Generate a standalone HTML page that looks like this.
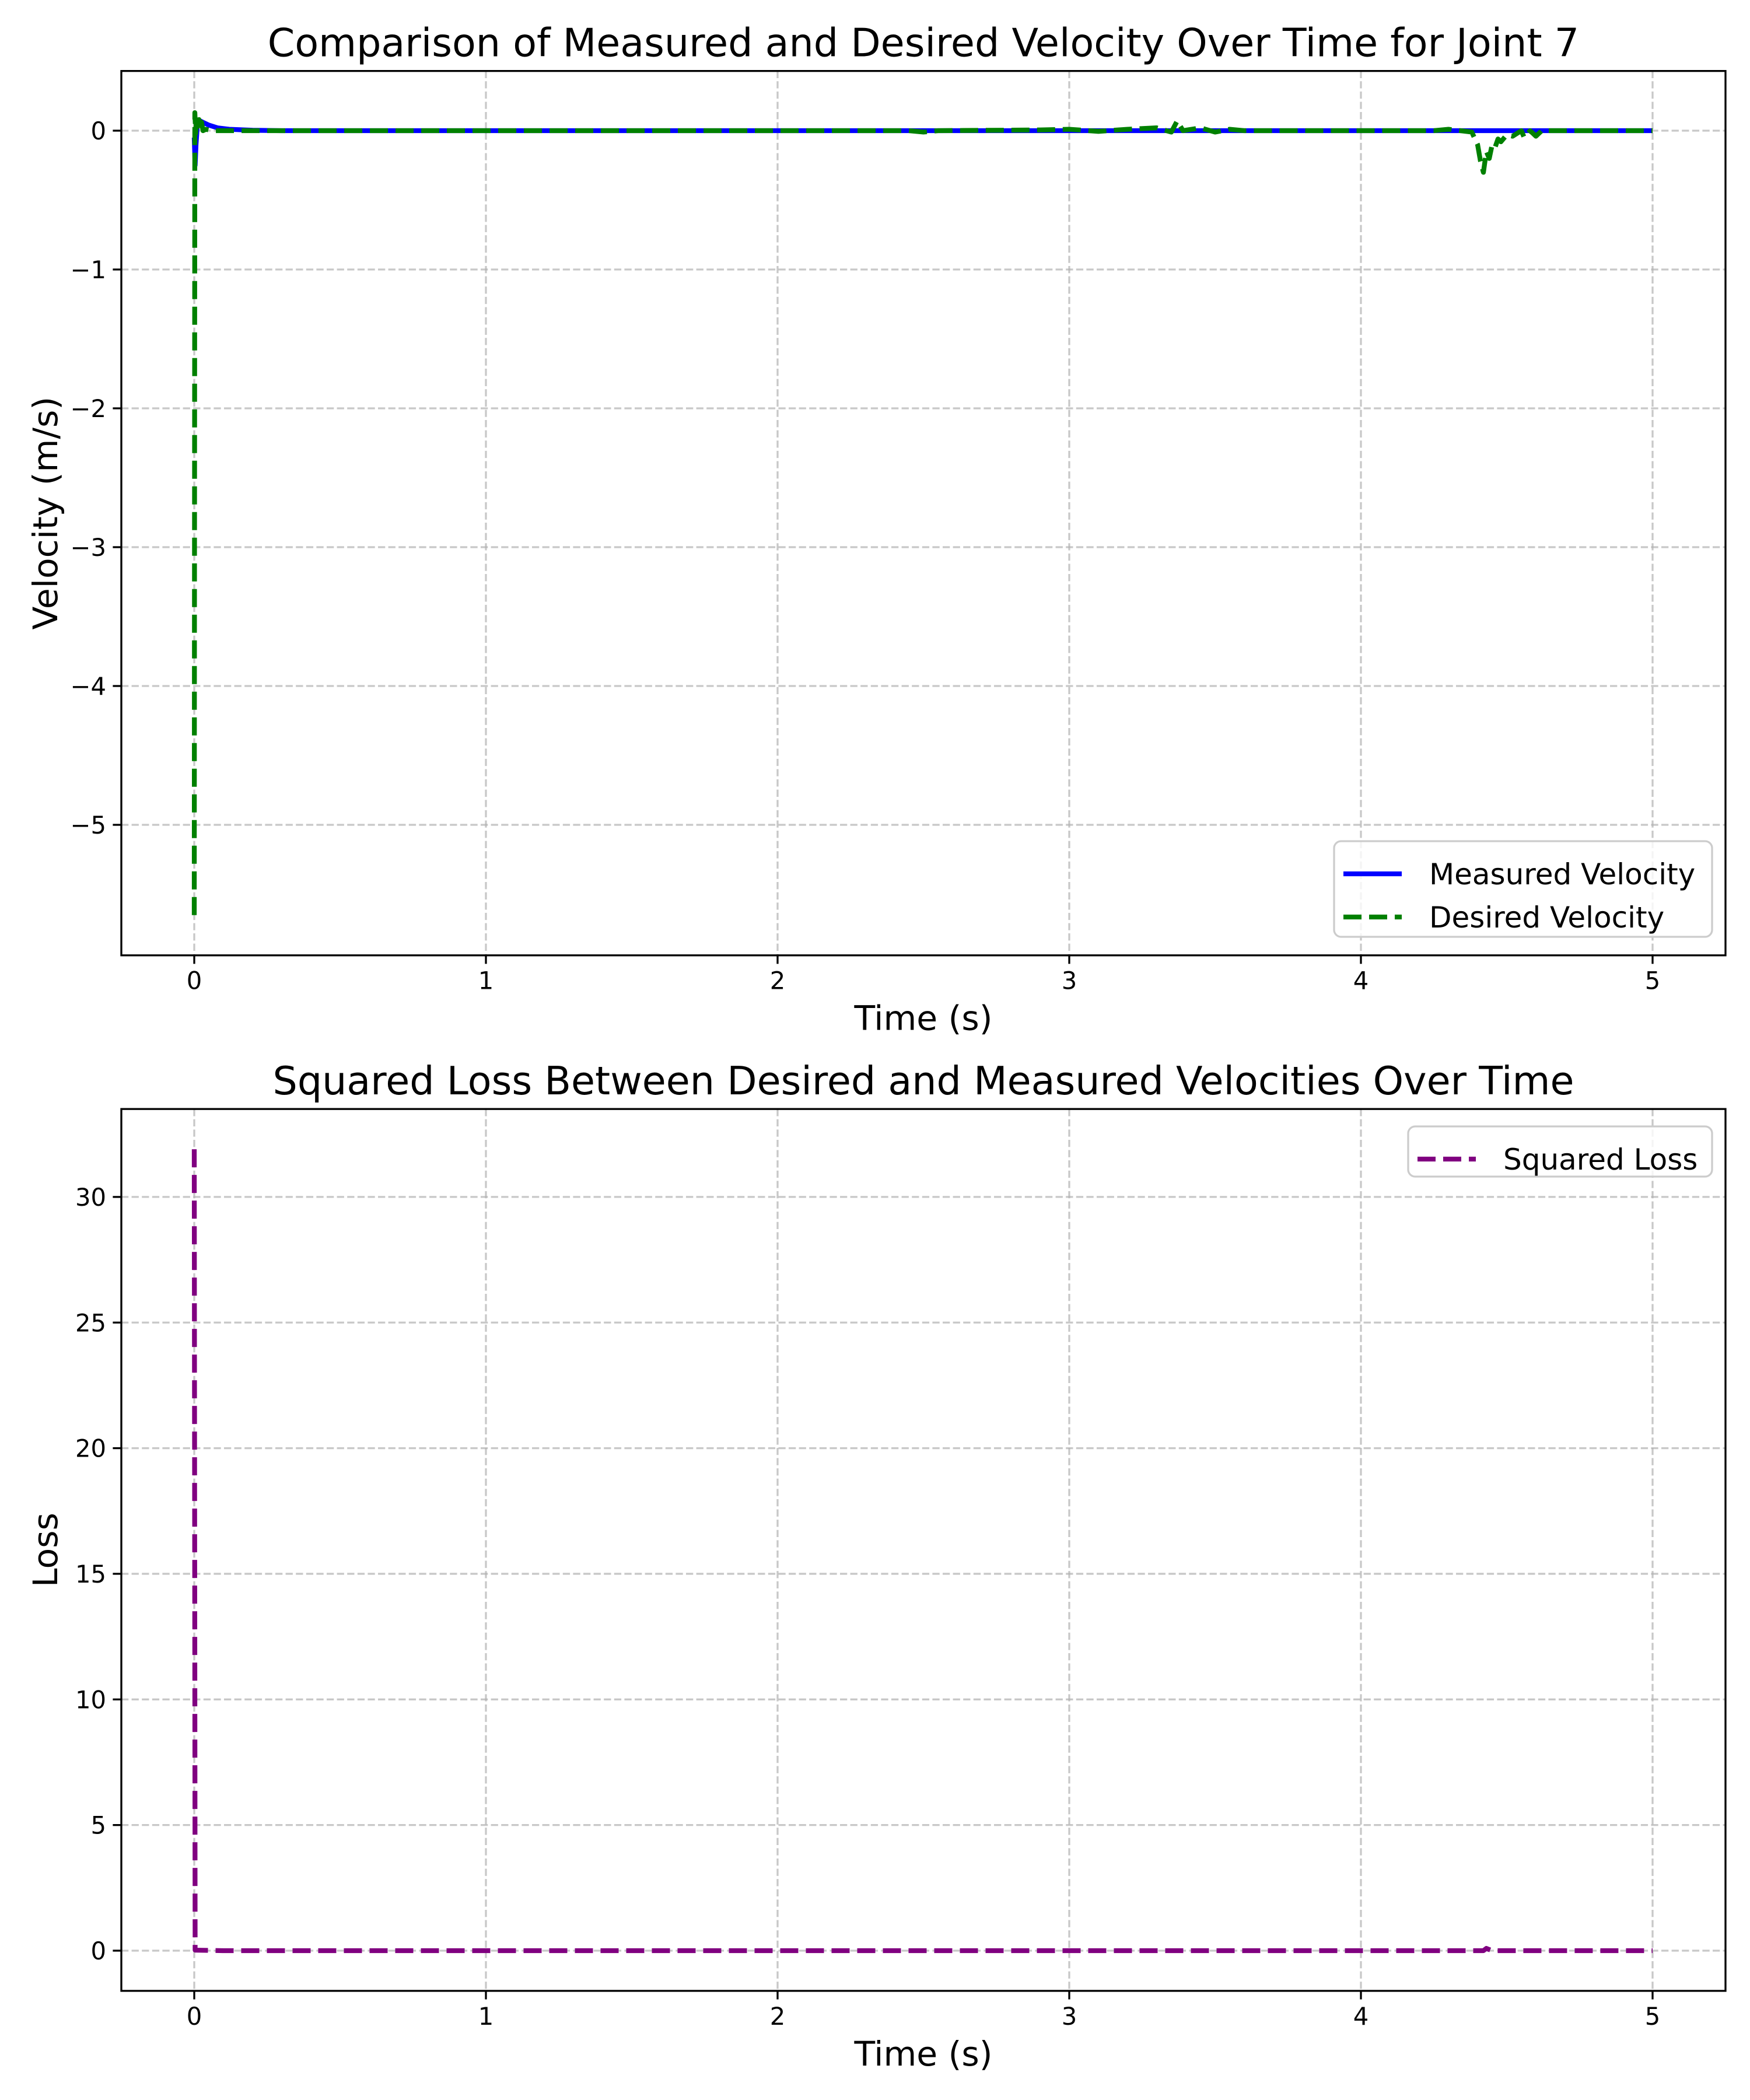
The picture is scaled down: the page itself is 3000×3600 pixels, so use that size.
<!DOCTYPE html>
<html><head><meta charset="utf-8">
<style>
html,body{margin:0;padding:0;background:#fff;}
svg{display:block;font-family:"DejaVu Sans","Liberation Sans",sans-serif;}
</style></head>
<body>
<svg id="fig" width="3000" height="3600" viewBox="0 0 3000 3600" xmlns="http://www.w3.org/2000/svg"></svg>
<script>
// ---- data ----
const xTicks = [0,1,2,3,4,5];
const velTicks = [0,-1,-2,-3,-4,-5];
const lossTicks = [0,5,10,15,20,25,30];
const measT = [0,0.003,0.006,0.01,0.015,0.02,0.03,0.05,0.08,0.12,0.2,0.3,5];
const measV = [-0.05,-0.25,-0.1,0.02,0.06,0.07,0.06,0.04,0.02,0.01,0.003,0,0];
const desT = [0,0.002,0.005,0.008,0.012,0.016,0.02,0.025,0.03,0.04,0.06,0.1,2.45,2.5,2.55,2.9,3.0,3.1,3.2,3.3,3.35,3.37,3.39,3.45,3.5,3.55,3.6,4.25,4.3,4.38,4.40,4.41,4.42,4.43,4.44,4.45,4.46,4.47,4.48,4.5,4.52,4.55,4.56,4.58,4.6,4.62,5];
const desV = [-5.65,0.13,-0.02,0.12,0.03,0.08,0.02,0.06,0.0,0.01,0,0,0,-0.01,0,0.005,0.01,-0.005,0.01,0.02,-0.01,0.07,0.0,0.02,-0.01,0.01,0,0,0.01,-0.01,-0.1,-0.22,-0.3,-0.15,-0.2,-0.1,-0.12,-0.06,-0.08,-0.03,-0.04,0,-0.05,0,-0.04,0,0];
const lossT = [0,0.003,0.1,4.42,4.43,4.45,5];
const lossV = [31.9,0.02,0,0,0.09,0,0];

const NS = "http://www.w3.org/2000/svg";
const svg = document.getElementById('fig');
function mk(tag, attrs, parent){
  const e = document.createElementNS(NS, tag);
  for (const k in attrs) e.setAttribute(k, attrs[k]);
  (parent||svg).appendChild(e);
  return e;
}
const L = 208, R = 2958;
const xS = v => 333 + v*500;
function axes(top, bottom, yS, yTicks, ylab, xlab, title, prefix){
  const g = mk('g', {});
  
  
  xTicks.forEach(t=>{
    const l = mk('line',{x1:xS(t),x2:xS(t),y1:top,y2:bottom,stroke:'#b0b0b0','stroke-opacity':0.7,'stroke-width':3.3,'stroke-dasharray':'12.3 5.3'},g);
    
    
  });
  yTicks.forEach(t=>{
    const l = mk('line',{x1:L,x2:R,y1:yS(t),y2:yS(t),stroke:'#b0b0b0','stroke-opacity':0.7,'stroke-width':3.3,'stroke-dasharray':'12.3 5.3'},g);
    
    
  });
  xTicks.forEach(t=>{
    mk('line',{x1:xS(t),x2:xS(t),y1:bottom,y2:bottom+14.6,stroke:'#000','stroke-width':3.3},g);
    const tx = mk('text',{x:xS(t),y:bottom+58,'font-size':41.7,'text-anchor':'middle',fill:'#000'},g);
    tx.textContent = String(t);
    
    
  });
  yTicks.forEach(t=>{
    mk('line',{x1:L-14.6,x2:L,y1:yS(t),y2:yS(t),stroke:'#000','stroke-width':3.3},g);
    const tx = mk('text',{x:L-26,y:yS(t)+15,'font-size':41.7,'text-anchor':'end',fill:'#000'},g);
    tx.textContent = t<0 ? '\u2212'+Math.abs(t) : String(t);
    
    
  });
  const tt = mk('text',{x:(L+R)/2,y:top-25,'font-size':66.7,'text-anchor':'middle',fill:'#000'});
  tt.textContent = title;
  
  
  const xl = mk('text',{x:(L+R)/2,y:bottom+128,'font-size':58.3,'text-anchor':'middle',fill:'#000'});
  xl.textContent = xlab;
  
  
  const cy = (top+bottom)/2;
  const yl = mk('text',{x:0,y:0,'font-size':58.3,'text-anchor':'middle',fill:'#000',transform:`translate(98,${cy}) rotate(-90)`});
  yl.textContent = ylab;
  
  
  return g;
}
function path(ts, vs, yS, attrs, name){
  const d = ts.map((t,i)=>(i?'L':'M')+xS(t).toFixed(1)+' '+yS(vs[i]).toFixed(1)).join(' ');
  const p = mk('path', Object.assign({d:d,fill:'none','stroke-linejoin':'round'}, attrs));
  
  
  return p;
}
function spines(top,bottom,name){
  const r = mk('rect',{x:L,y:top,width:R-L,height:bottom-top,fill:'none',stroke:'#000','stroke-width':3.3});
  
  
}
function legend(x,y,w,h,entries,name){
  const g = mk('g',{});
  
  
  mk('rect',{x:x,y:y,width:w,height:h,rx:12,fill:'#fff','fill-opacity':0.8,stroke:'#cccccc','stroke-width':3.3},g);
  entries.forEach((e,i)=>{
    const cy = y+ 56 + i*74;
    mk('line',Object.assign({x1:x+16,x2:x+116,y1:cy,y2:cy,'stroke-width':8.3},e.style),g);
    const t = mk('text',{x:x+163,y:cy+18,'font-size':50,fill:'#000'},g);
    t.textContent = e.label;
    
    
  });
}
// top axes
const yV = v => 224 - v*238;
const vTop = yV(0.43), vBot = yV(-5.94);
axes(vTop,vBot,yV,velTicks,'Velocity (m/s)','Time (s)','Comparison of Measured and Desired Velocity Over Time for Joint 7','velocity');
path(measT,measV,yV,{stroke:'#0000ff','stroke-width':8.3},'measured-velocity-line');
path(desT,desV,yV,{stroke:'#008000','stroke-width':8.3,'stroke-dasharray':'31 13'},'desired-velocity-line');
spines(vTop,vBot,'velocity-plot-frame');
legend(2287,1442,648,164,[
  {label:'Measured Velocity',style:{stroke:'#0000ff'}},
  {label:'Desired Velocity',style:{stroke:'#008000','stroke-dasharray':'31 13'}}],'velocity-legend');
// bottom axes
const yL = v => 3344 - v*43.07;
const lTop = yL(33.5), lBot = yL(-1.6);
axes(lTop,lBot,yL,lossTicks,'Loss','Time (s)','Squared Loss Between Desired and Measured Velocities Over Time','loss');
path(lossT,lossV,yL,{stroke:'#800080','stroke-width':8.3,'stroke-dasharray':'31 13'},'squared-loss-line');
spines(lTop,lBot,'loss-plot-frame');
legend(2414,1931,521,86,[
  {label:'Squared Loss',style:{stroke:'#800080','stroke-dasharray':'31 13'}}],'loss-legend');
</script>
</body></html>
